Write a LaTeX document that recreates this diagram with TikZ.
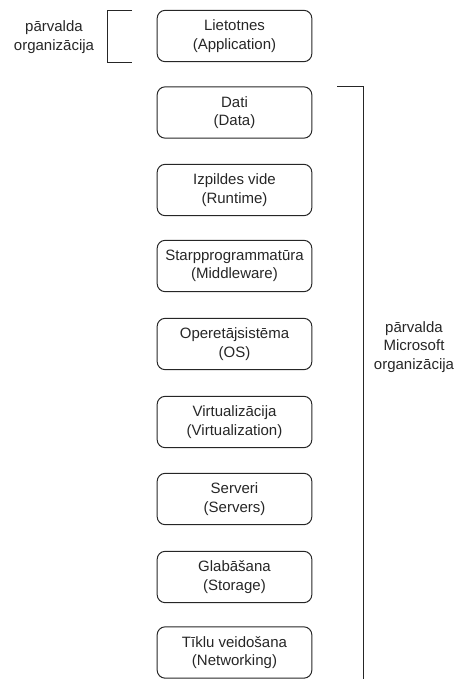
\documentclass[tikz,border=0pt]{standalone}
\usepackage{fontspec}
\setmainfont{Liberation Sans}
\begin{document}
\begin{tikzpicture}[x=0.75pt,y=-0.75pt,
  layer/.style={draw=black!85, line width=0.75pt, rounded corners=6pt,
    minimum width=116pt, minimum height=38.5pt, align=center,
    font=\fontsize{11.25}{13.8}\selectfont, inner sep=1pt, text=black!85},
  lbl/.style={align=center, font=\fontsize{11.25}{13.8}\selectfont, text=black!85},
  brk/.style={draw=black!85, line width=0.75pt}]
\useasboundingbox (0,0) rectangle (457,679);
\node[layer] (app)  at (234.5,36)  {Lietotnes\\(Application)};
\node[layer] (data) at (234.5,112.5) {Dati\\(Data)};
\node[layer] (rt)   at (234.5,190) {Izpildes vide\\(Runtime)};
\node[layer] (mw)   at (234.5,266) {Starpprogrammatūra\\(Middleware)};
\node[layer] (os)   at (234.5,344) {Operetājsistēma\\(OS)};
\node[layer] (virt) at (234.5,422) {Virtualizācija\\(Virtualization)};
\node[layer] (srv)  at (234.5,499) {Serveri\\(Servers)};
\node[layer] (stor) at (234.5,577) {Glabāšana\\(Storage)};
\node[layer] (net)  at (234.5,652.5) {Tīklu veidošana\\(Networking)};
\node[lbl] (own) at (54,37) {pārvalda\\organizācija};
\node[lbl] (ms) at (414,347) {pārvalda\\Microsoft\\organizācija};
\coordinate (b1a) at (132,10);
\coordinate (b1b) at (107,10);
\coordinate (b1c) at (107,62);
\coordinate (b1d) at (132,62);
\draw[brk] (b1a) -- (b1b) -- (b1c) -- (b1d);
\coordinate (b2a) at (337,86);
\coordinate (b2b) at (363,86);
\coordinate (b2c) at (363,679);
\draw[brk] (b2a) -- (b2b) -- (b2c);
\end{tikzpicture}
\end{document}
